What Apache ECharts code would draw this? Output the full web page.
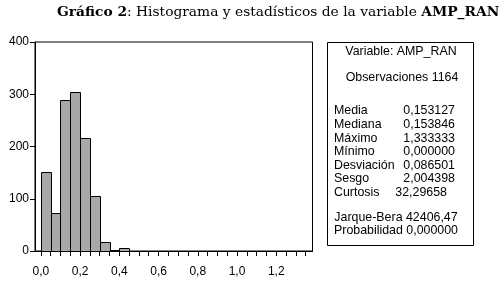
<!DOCTYPE html>
<html>
<head>
<meta charset="utf-8">
<script src="https://cdn.jsdelivr.net/npm/echarts@6/dist/echarts.min.js"></script>
<style>html,body{margin:0;padding:0;background:#fff}#c{width:504px;height:290px}</style>
</head>
<body>
<div id="c"></div>
<script>
// Histogram bins (start of each 0.05-wide bin) and counts
const binStarts = [0.00, 0.05, 0.10, 0.15, 0.20, 0.25, 0.30, 0.35, 0.40];
const binCounts = [151, 72, 289, 304, 216, 105, 17, 2, 5];
const binWidth = 0.05;
const xTickValues = [0,0.05,0.1,0.15,0.2,0.25,0.3,0.35,0.4,0.45,0.5,0.55,0.6,0.65,0.7,0.75,0.8,0.85,0.9,0.95,1.0,1.05,1.1,1.15,1.2,1.25,1.3,1.35];
const xLabelValues = [0, 0.2, 0.4, 0.6, 0.8, 1.0, 1.2];
const yTickValues = [0, 100, 200, 300, 400];
const titleBold1 = 'Gráfico 2';
const titleMid = ': Histograma y estadísticos de la variable ';
const titleBold2 = 'AMP_RAN';
const statHeader = 'Variable: AMP_RAN';
const statObs = 'Observaciones 1164';
const statLabels = ['Media', 'Mediana', 'Máximo', 'Mínimo', 'Desviación', 'Sesgo', 'Curtosis'];
const statValues = ['0,153127', '0,153846', '1,333333', '0,000000', '0,086501', '2,004398', '32,29658'];
const statFooter = ['Jarque-Bera 42406,47', 'Probabilidad 0,000000'];

const fmt = v => v.toFixed(1).replace('.', ',');
const chart = echarts.init(document.getElementById('c'), null, {renderer: 'canvas'});
const FONT = 'Liberation Sans, Arial, sans-serif';
const SFONT = '"DejaVu Serif", serif';
const SF = '12.4px ' + FONT;

const statGraphics = [];
statGraphics.push({type: 'rect', shape: {x: 327.5, y: 42.5, width: 146, height: 203}, style: {fill: '#fff', stroke: '#000', lineWidth: 1}});
statGraphics.push({type: 'text', x: 401, y: 52, style: {text: statHeader, font: SF, fill: '#000', align: 'center', verticalAlign: 'middle'}});
statGraphics.push({type: 'text', x: 402, y: 78, style: {text: statObs, font: SF, fill: '#000', align: 'center', verticalAlign: 'middle'}});
statLabels.forEach((l, i) => {
  const y = 111 + i * 13.6;
  statGraphics.push({type: 'text', x: 334, y: y, style: {text: l, font: SF, fill: '#000', align: 'left', verticalAlign: 'middle'}});
  const rx = statValues[i].indexOf(',') > 1 ? 447 : 455;
  statGraphics.push({type: 'text', x: rx, y: y, style: {text: statValues[i], font: SF, fill: '#000', align: 'right', verticalAlign: 'middle'}});
});
statFooter.forEach((t, i) => {
  statGraphics.push({type: 'text', x: 396, y: 217.5 + i * 13, style: {text: t, font: SF, fill: '#000', align: 'center', verticalAlign: 'middle'}});
});

chart.setOption({
  animation: false,
  backgroundColor: '#fff',
  title: {
    text: '{b|' + titleBold1 + '}{n|' + titleMid + '}{b|' + titleBold2 + '}',
    left: 57, top: 5, padding: 0,
    textStyle: {
      rich: {
        b: {fontFamily: SFONT, fontWeight: 'bold', fontSize: 13.8, color: '#000'},
        n: {fontFamily: SFONT, fontWeight: 'normal', fontSize: 13.8, color: '#000'}
      }
    }
  },
  grid: {left: 35, right: 504 - 312.5, top: 42, bottom: 290 - 251, show: true, borderColor: '#000', borderWidth: 1, containLabel: false},
  xAxis: {
    type: 'value', min: -0.03, max: 1.385,
    splitLine: {show: false},
    axisLine: {show: true, onZero: false, lineStyle: {color: '#000', width: 1}},
    axisTick: {show: true, inside: false, length: 5, customValues: xTickValues, lineStyle: {color: '#000'}},
    axisLabel: {show: true, margin: 15, customValues: xLabelValues, formatter: v => fmt(v), color: '#000', fontFamily: FONT, fontSize: 12}
  },
  yAxis: {
    type: 'value', min: 0, max: 400,
    splitLine: {show: false},
    axisLine: {show: true, onZero: false, lineStyle: {color: '#000', width: 1}},
    axisTick: {show: true, inside: false, length: 5, customValues: yTickValues, lineStyle: {color: '#000'}},
    axisLabel: {show: true, margin: 6, customValues: yTickValues, color: '#000', fontFamily: FONT, fontSize: 12}
  },
  series: [{
    type: 'custom',
    data: binStarts.map((s, i) => [s, s + binWidth, binCounts[i]]),
    encode: {x: [0, 1], y: 2},
    renderItem: function (params, api) {
      const p0 = api.coord([api.value(0), 0]);
      const p1 = api.coord([api.value(1), api.value(2)]);
      return {
        type: 'rect',
        shape: {x: Math.round(p0[0]) + 0.5, y: Math.round(p1[1]) + 0.5, width: Math.round(p1[0]) - Math.round(p0[0]), height: Math.round(p0[1]) - Math.round(p1[1])},
        style: {fill: '#a8a8a8', stroke: '#000', lineWidth: 1}
      };
    }
  }],
  graphic: statGraphics
});
</script>
</body>
</html>
